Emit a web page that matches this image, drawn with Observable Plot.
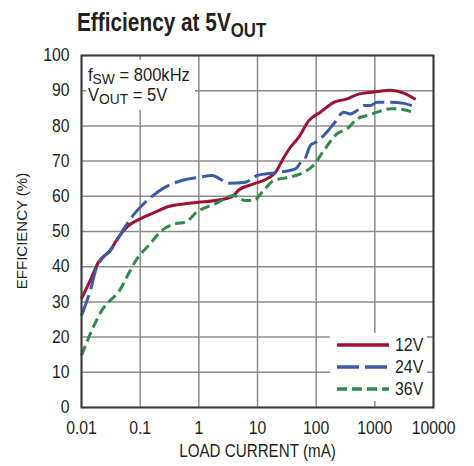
<!DOCTYPE html>
<html>
<head>
<meta charset="utf-8">
<script src="https://cdn.jsdelivr.net/npm/d3@7"></script>
<script src="https://cdn.jsdelivr.net/npm/@observablehq/plot@0.6"></script>
<style>
  html, body { margin: 0; padding: 0; background: #fff; }
  #wrap { position: relative; width: 474px; height: 466px; overflow: hidden;
          font-family: "Liberation Sans", Arial, sans-serif; color: #231f20; }
  #title { position: absolute; left: 77px; top: 4px; font-size: 26px; font-weight: bold; white-space: nowrap;
           line-height: 36px; transform: scaleX(0.8); transform-origin: left center; }
  #title sub { font-size: 21px; vertical-align: -6px; line-height: 0; }
  #chart { position: absolute; left: 0; top: 40px; }
  #note { position: absolute; left: 86px; top: 60px; width: 109px; height: 50px; background: #fff; }
  #note .txt { position: absolute; left: 2px; top: 5px; font-size: 18px; line-height: 20px; white-space: nowrap;
               transform: scaleX(0.92); transform-origin: left center; }
  #note sub { font-size: 15px; vertical-align: -3px; line-height: 0; }
  #legend { position: absolute; left: 330px; top: 333px; width: 97px; height: 68px; background: #fff; }
  #legend .row { position: absolute; left: 7px; height: 22px; display: flex; align-items: center; }
  #legend svg { display: block; margin-right: 6px; }
  #legend span { display: inline-block; font-size: 18.5px; transform: scaleX(0.86); transform-origin: left center; }
  #ylabel { position: absolute; left: 21px; top: 231px; font-size: 15px; white-space: nowrap;
            transform: translate(-50%, -50%) rotate(-90deg); transform-origin: center; }
</style>
</head>
<body>
<div id="wrap">
  <div id="title">Efficiency at 5V<sub>OUT</sub></div>
  <div id="chart"></div>
  <div id="note"><div class="txt"><div>f<sub>SW</sub> = 800kHz</div><div>V<sub>OUT</sub> = 5V</div></div></div>
  <div id="legend"></div>
  <div id="ylabel"></div>
</div>
<script>
// Load current (mA) and efficiency (%) for each input voltage
const load12 = [0.01, 0.0141, 0.0195, 0.0308, 0.0428, 0.0633, 0.1, 0.18, 0.304, 0.585, 0.98, 1.92, 3.7, 4.8, 8.6, 14.6, 20.3, 26.4, 34.2, 50.6, 75, 118, 200, 337, 500, 960, 1870, 3119, 4960];
const eff12  = [30.9, 36.1, 41.3, 44.6, 48.4, 51.7, 53.6, 55.5, 57.1, 57.9, 58.3, 58.8, 59.9, 61.8, 63.5, 65.0, 66.8, 70.2, 73.3, 76.8, 81.5, 83.9, 86.7, 87.7, 88.9, 89.6, 90.1, 89.3, 87.5];

const load24 = [0.01, 0.0141, 0.0182, 0.0222, 0.0328, 0.0486, 0.072, 0.122, 0.267, 0.513, 0.98, 1.69, 2.3, 3.24, 6.2, 10, 20.3, 44.4, 54, 66, 80, 100, 135, 200, 295, 385, 500, 649, 843, 1096, 1870, 3119, 4960];
const eff24  = [26.1, 33.2, 39.9, 42.2, 45.1, 49.8, 54.1, 58.3, 62.6, 64.5, 65.4, 65.9, 64.9, 63.7, 64.0, 65.9, 66.7, 67.8, 69.5, 71.0, 74.5, 75.4, 77.3, 80.6, 83.9, 83.4, 84.4, 85.8, 85.8, 86.7, 86.7, 86.4, 85.3];

const load36 = [0.01, 0.015, 0.0222, 0.0308, 0.0428, 0.0633, 0.0877, 0.139, 0.234, 0.395, 0.585, 0.92, 1.92, 3.94, 6.2, 8.6, 12, 19, 34.2, 57.8, 91, 135, 228, 337, 500, 741, 1096, 1870, 3119, 4960];
const eff36  = [14.8, 21.9, 27.6, 30.4, 32.8, 38.0, 42.2, 46.0, 50.3, 52.2, 52.6, 55.5, 57.9, 60.2, 58.8, 58.8, 61.2, 64.5, 65.4, 66.6, 68.9, 73.0, 77.8, 79.2, 82.0, 83.0, 83.9, 84.9, 84.6, 83.6];

const seriesNames = ["12V", "24V", "36V"];
const seriesColors = ["#9d1131", "#3b5aa8", "#2e8b4b"];
const seriesDash = [null, "22,6", "10,5"];

const xTicks = [0.01, 0.1, 1, 10, 100, 1000, 10000];
const xTickLabels = ["0.01", "0.1", "1", "10", "100", "1000", "10000"];
const yTicks = [0, 10, 20, 30, 40, 50, 60, 70, 80, 90, 100];

const xLabel = "LOAD CURRENT (mA)";
const yLabel = "EFFICIENCY (%)";

const toRows = (xs, ys) => xs.map((x, i) => ({x, y: ys[i]}));
const rows = [toRows(load12, eff12), toRows(load24, eff24), toRows(load36, eff36)];

const FONT = '"Liberation Sans", Arial, sans-serif';
const gridStyle = {stroke: "#8c8c8c", strokeOpacity: 1, strokeWidth: 1.5};

const lineMark = (i) => Plot.line(rows[i], {
  x: "x", y: "y", stroke: seriesColors[i], strokeWidth: 3,
  strokeDasharray: seriesDash[i] || undefined, curve: "monotone-x", strokeLinecap: "butt"
});

const plot = Plot.plot({
  width: 474, height: 426,
  marginTop: 15, marginBottom: 59, marginLeft: 81, marginRight: 41,
  style: {fontFamily: FONT, fontSize: "17.5px", color: "#231f20", background: "transparent", overflow: "visible"},
  x: {type: "log", domain: [0.01, 10000]},
  y: {domain: [0, 100]},
  marks: [
    Plot.gridX(xTicks, gridStyle),
    Plot.gridY(yTicks, gridStyle),
    lineMark(0),
    lineMark(2),
    lineMark(1),
    Plot.frame({stroke: "#3a3a3a", strokeWidth: 2}),
    Plot.axisX(xTicks, {tickSize: 0, tickPadding: 14, tickFormat: (d) => xTickLabels[xTicks.indexOf(d)], label: null, fontSize: 17.5}),
    Plot.axisY(yTicks, {tickSize: 0, tickPadding: 12, label: null, fontSize: 17.5}),
    Plot.text([xLabel], {frameAnchor: "bottom", dy: 43, lineAnchor: "middle", textAnchor: "middle", fontSize: 19})
  ]
});
document.getElementById("chart").appendChild(plot);

// narrow (condensed) lettering like the reference
const squeeze = (sel, k) => plot.querySelectorAll(sel).forEach(t =>
  t.setAttribute("transform", (t.getAttribute("transform") || "") + ` scale(${k},1)`));
squeeze('g[aria-label="x-axis tick label"] text', 0.9);
squeeze('g[aria-label="y-axis tick label"] text', 0.9);
plot.querySelectorAll('text').forEach(t => { if (t.textContent === xLabel) t.setAttribute("transform", (t.getAttribute("transform") || "") + " scale(0.8,1)"); });

document.getElementById("ylabel").textContent = yLabel;

// Legend
const legend = document.getElementById("legend");
const rowTops = [1, 23, 45];
seriesNames.forEach((name, i) => {
  const row = document.createElement("div");
  row.className = "row";
  row.style.top = rowTops[i] + "px";
  const svg = d3.create("svg").attr("width", 52).attr("height", 6);
  svg.append("line").attr("x1", 0).attr("x2", 52).attr("y1", 3).attr("y2", 3)
     .attr("stroke", seriesColors[i]).attr("stroke-width", 3.5)
     .attr("stroke-dasharray", seriesDash[i]);
  row.appendChild(svg.node());
  const t = document.createElement("span");
  t.textContent = name;
  row.appendChild(t);
  legend.appendChild(row);
});
</script>
</body>
</html>
